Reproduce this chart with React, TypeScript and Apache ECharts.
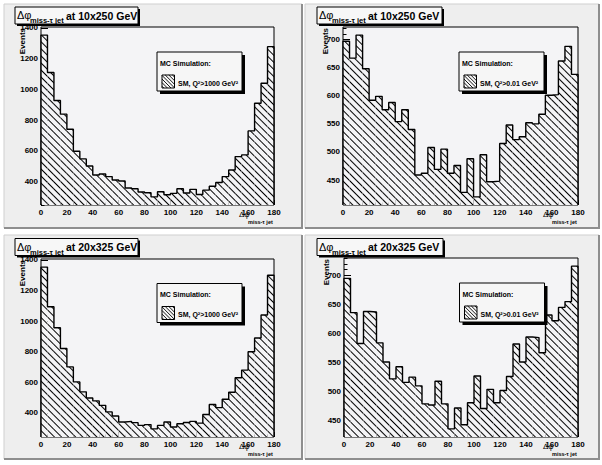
import React, { useEffect, useRef } from "react";
import * as echarts from "echarts";

// ---- data ----
const binStarts = ["0","5","10","15","20","25","30","35","40","45","50","55","60","65","70","75","80","85","90","95","100","105","110","115","120","125","130","135","140","145","150","155","160","165","170","175"];
const xTickValues = [0, 20, 40, 60, 80, 100, 120, 140, 160, 180];
const yTicksHigh = [400, 600, 800, 1000, 1200, 1400];
const yTicksLow = [450, 500, 550, 600, 650, 700];

const events10x250Q2High = [1353, 1110, 928, 839, 741, 598, 548, 502, 443, 450, 433, 411, 404, 359, 354, 333, 328, 301, 335, 315, 324, 354, 326, 350, 317, 345, 370, 395, 433, 476, 563, 574, 730, 910, 1040, 1278];
const events10x250Q2Low = [697, 667, 708, 648, 592, 599, 575, 588, 554, 575, 540, 459, 462, 508, 469, 505, 462, 476, 428, 488, 420, 495, 447, 448, 515, 548, 522, 527, 552, 550, 567, 601, 602, 662, 688, 638];
const events20x325Q2High = [1353, 1094, 957, 821, 701, 603, 538, 498, 479, 450, 407, 380, 341, 345, 337, 319, 324, 296, 319, 341, 308, 330, 338, 345, 334, 390, 455, 435, 490, 535, 630, 680, 800, 890, 1040, 1300];
const events20x325Q2Low = [695, 636, 583, 638, 637, 584, 551, 522, 543, 516, 525, 510, 479, 477, 518, 479, 436, 472, 443, 481, 527, 471, 504, 481, 502, 526, 582, 551, 594, 593, 567, 632, 622, 645, 655, 716];

const energyLabels = ["at 10x250 GeV", "at 10x250 GeV", "at 20x325 GeV", "at 20x325 GeV"];
const legendLabels = ["SM, Q\u00B2>1000 GeV\u00B2", "SM, Q\u00B2>0.01 GeV\u00B2", "SM, Q\u00B2>1000 GeV\u00B2", "SM, Q\u00B2>0.01 GeV\u00B2"];

// ---- layout / style ----
const FONT = "'Liberation Sans', Arial, Helvetica, sans-serif";
const PAD_FILL = "#eeeeee";
const FRAME_FILL = "#f4f4f6";

const panels = [
  { data: events10x250Q2High, ticks: yTicksHigh, minor: 50, grid: { left: 41, top: 27, width: 233, height: 178 }, pad: { x: 4, y: 4, w: 298, h: 224 }, title: { x: 15, y: 7, w: 123 }, legend: { x: 157, y: 52 }, eventsX: 22 },
  { data: events10x250Q2Low, ticks: yTicksLow, minor: 10, grid: { left: 343, top: 27, width: 235, height: 178 }, pad: { x: 305, y: 4, w: 294, h: 224 }, title: { x: 317, y: 7, w: 125 }, legend: { x: 459, y: 52 }, eventsX: 325 },
  { data: events20x325Q2High, ticks: yTicksHigh, minor: 50, grid: { left: 41, top: 259, width: 233, height: 178 }, pad: { x: 4, y: 235, w: 298, h: 224 }, title: { x: 15, y: 238.5, w: 123 }, legend: { x: 157, y: 283.5 }, eventsX: 22 },
  { data: events20x325Q2Low, ticks: yTicksLow, minor: 10, grid: { left: 344, top: 258, width: 234, height: 179 }, pad: { x: 305, y: 235, w: 294, h: 224 }, title: { x: 317, y: 238.5, w: 126 }, legend: { x: 459.5, y: 283 }, eventsX: 326 },
];

function range(data: number[]) {
  const lo = Math.min(...data);
  const hi = Math.max(...data);
  const r = hi - lo;
  return { min: lo - 0.05 * r, max: hi + 0.05 * r };
}

function minorTicks(min: number, max: number, step: number) {
  const out: number[] = [];
  for (let v = Math.ceil(min / step) * step; v <= max; v += step) out.push(v);
  return out;
}

function hatch(x0: number, y0: number, w: number, h: number, step: number, z: number) {
  const out: any[] = [];
  for (let c = -h + step / 2; c < w; c += step) {
    const t1 = Math.max(0, -c);
    const t2 = Math.min(h, w - c);
    if (t2 > t1) {
      out.push({ type: "line", z, silent: true, shape: { x1: x0 + c + t1, y1: y0 + t1, x2: x0 + c + t2, y2: y0 + t2 }, style: { stroke: "#000", lineWidth: 0.9 } });
    }
  }
  return out;
}

function text(x: number, y: number, s: string, size: number, weight: string, extra: any = {}) {
  return {
    type: "text", x, y, z: 20, silent: true, ...extra,
    style: { text: s, fontSize: size, fontWeight: weight, fontFamily: FONT, fill: "#000", align: extra.align || "left", verticalAlign: extra.verticalAlign || "middle" },
  };
}

const plain = (v: number) => String(v);

function buildOption() {
  const grids: any[] = [];
  const xAxes: any[] = [];
  const yAxes: any[] = [];
  const series: any[] = [];
  const graphics: any[] = [];

  graphics.push({ type: "rect", z: -20, silent: true, shape: { x: 0, y: 0, width: 602, height: 465 }, style: { fill: "#ffffff" } });

  panels.forEach((p, k) => {
    const { min, max } = range(p.data);
    grids.push({ ...p.grid, show: true, backgroundColor: FRAME_FILL, borderColor: "#000", borderWidth: 1, containLabel: false, outerBoundsMode: "none" });

    xAxes.push({ type: "category", gridIndex: k, data: binStarts, show: false, boundaryGap: true });
    xAxes.push({
      type: "value", gridIndex: k, min: 0, max: 180, interval: 20, position: "bottom",
      axisLine: { show: false }, splitLine: { show: false },
      axisTick: { show: true, inside: true, length: 5, lineStyle: { color: "#000", width: 1 }, customValues: xTickValues },
      minorTick: { show: true, splitNumber: 4, length: 2.5, lineStyle: { color: "#000", width: 1 } },
      axisLabel: { show: true, margin: 3, fontSize: 8, fontWeight: "bold", fontFamily: FONT, color: "#000", customValues: xTickValues, formatter: plain },
    });

    yAxes.push({
      type: "value", gridIndex: k, min, max, position: "left",
      axisLine: { show: false }, splitLine: { show: false },
      axisTick: { show: true, inside: true, length: 7, lineStyle: { color: "#000", width: 1 }, customValues: p.ticks },
      axisLabel: { show: true, margin: 3, fontSize: 8, fontWeight: "bold", fontFamily: FONT, color: "#000", customValues: p.ticks, formatter: plain },
    });
    yAxes.push({
      type: "value", gridIndex: k, min, max, position: "left",
      axisLine: { show: false }, splitLine: { show: false },
      axisTick: { show: true, inside: true, length: 3.5, lineStyle: { color: "#000", width: 1 }, customValues: minorTicks(min, max, p.minor).filter((v) => p.ticks.indexOf(v) < 0) },
      axisLabel: { show: false },
    });

    series.push({
      type: "bar", xAxisIndex: 2 * k, yAxisIndex: 2 * k, data: p.data,
      barCategoryGap: "0%", barGap: "0%", clip: true, silent: true, z: 2,
      itemStyle: {
        color: FRAME_FILL,
        decal: { symbol: "rect", symbolSize: 1, color: "#000", dashArrayX: [1, 0], dashArrayY: [1, 3.4], rotation: Math.PI / 4 },
      },
    });
    const outline: number[][] = [[0, min]];
    p.data.forEach((v, i) => outline.push([Number(binStarts[i]) + 5, v]));
    outline.push([180, min]);
    series.push({
      type: "line", xAxisIndex: 2 * k + 1, yAxisIndex: 2 * k, data: outline, step: "start",
      symbol: "none", clip: true, silent: true, z: 3,
      lineStyle: { color: "#000", width: 1.4 },
    });

    const pd = p.pad;
    graphics.push({ type: "rect", z: -10, silent: true, shape: { x: pd.x, y: pd.y, width: pd.w, height: pd.h }, style: { fill: PAD_FILL, stroke: "#cfcfcf", lineWidth: 1 } });
    graphics.push({ type: "line", z: -9, silent: true, shape: { x1: pd.x + pd.w, y1: pd.y, x2: pd.x + pd.w, y2: pd.y + pd.h }, style: { stroke: "#8e8e8e", lineWidth: 2 } });
    graphics.push({ type: "line", z: -9, silent: true, shape: { x1: pd.x, y1: pd.y + pd.h, x2: pd.x + pd.w + 1, y2: pd.y + pd.h }, style: { stroke: "#8e8e8e", lineWidth: 2 } });

    const t = p.title;
    graphics.push({ type: "rect", z: 15, silent: true, shape: { x: t.x + 2, y: t.y + 2, width: t.w, height: 17 }, style: { fill: "#000" } });
    graphics.push({ type: "rect", z: 16, silent: true, shape: { x: t.x, y: t.y, width: t.w, height: 17 }, style: { fill: "#f7f7f7", stroke: "#000", lineWidth: 1 } });
    graphics.push(text(t.x + 2, t.y + 8, "\u0394\u03C6", 11, "normal"));
    graphics.push(text(t.x + 15, t.y + 13.5, "miss-\u03C4 jet", 7.5, "bold"));
    graphics.push(text(t.x + 51, t.y + 8.5, energyLabels[k], 10.5, "bold"));

    const L = p.legend;
    graphics.push({ type: "rect", z: 15, silent: true, shape: { x: L.x + 3, y: L.y + 3, width: 85, height: 39 }, style: { fill: "#000" } });
    graphics.push({ type: "rect", z: 16, silent: true, shape: { x: L.x, y: L.y, width: 85, height: 39 }, style: { fill: "#f6f6f6", stroke: "#000", lineWidth: 1 } });
    graphics.push(text(L.x + 3, L.y + 11, "MC Simulation:", 7, "bold"));
    hatch(L.x + 5, L.y + 23, 12.5, 13, 3.6, 17).forEach((g) => graphics.push(g));
    graphics.push({ type: "rect", z: 18, silent: true, shape: { x: L.x + 5, y: L.y + 23, width: 12.5, height: 13 }, style: { fill: "none", stroke: "#000", lineWidth: 1 } });
    graphics.push(text(L.x + 21, L.y + 31, legendLabels[k], 7, "bold"));

    const g = p.grid;
    graphics.push(text(p.eventsX, g.top + 1, "Events", 8, "bold", { rotation: Math.PI / 2, align: "right", verticalAlign: "middle" }));
    const xr = g.left + g.width;
    graphics.push(text(xr - 35, g.top + g.height + 9.5, "\u0394\u03C6", 8, "normal"));
    graphics.push(text(xr - 26, g.top + g.height + 17, "miss-\u03C4 jet", 5.5, "bold"));
  });

  return {
    animation: false,
    backgroundColor: "#ffffff",
    textStyle: { fontFamily: FONT },
    grid: grids,
    xAxis: xAxes,
    yAxis: yAxes,
    series,
    graphic: { elements: graphics },
  };
}

export default function App() {
  const ref = useRef<HTMLDivElement | null>(null);
  useEffect(() => {
    document.body.style.margin = "0";
    if (!ref.current) return;
    const chart = echarts.init(ref.current, undefined, { renderer: "svg" });
    chart.setOption(buildOption() as any);
    return () => chart.dispose();
  }, []);
  return <div ref={ref} style={{ width: 602, height: 465, position: "absolute", left: 0, top: 0 }} />;
}
